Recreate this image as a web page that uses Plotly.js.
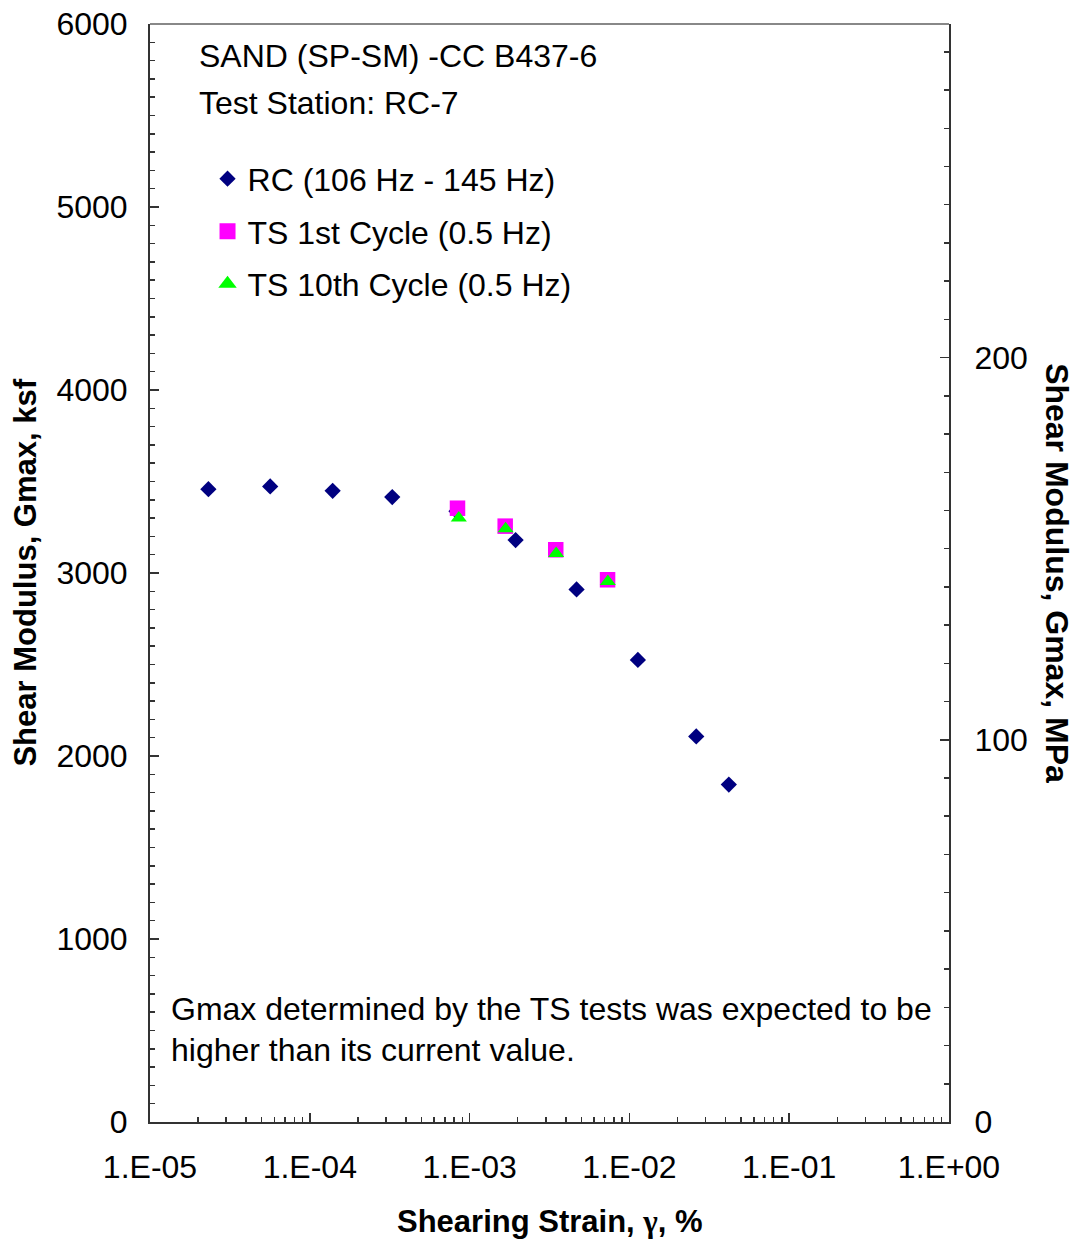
<!DOCTYPE html>
<html>
<head>
<meta charset="utf-8">
<script src="https://cdn.plot.ly/plotly-3.0.1.min.js"></script>
<style>html,body{margin:0;padding:0;background:#fff;}#chart{width:1076px;height:1243px;}</style>
</head>
<body>
<div id="chart"></div>
<script>
// RC (106 Hz - 145 Hz)
const rcStrain = [2.32e-5, 5.65e-5, 1.39e-4, 3.28e-4, 8.28e-4, 1.94e-3, 4.67e-3, 1.13e-2, 2.62e-2, 4.19e-2];
const rcG      = [3458, 3473, 3449, 3415, 3338, 3180, 2910, 2525, 2107, 1844];
// TS 1st Cycle (0.5 Hz)
const ts1Strain = [8.40e-4, 1.67e-3, 3.46e-3, 7.30e-3];
const ts1G      = [3354, 3256, 3127, 2963];
// TS 10th Cycle (0.5 Hz)
const ts10Strain = [8.56e-4, 1.68e-3, 3.48e-3, 7.33e-3];
const ts10G      = [3300, 3242, 3106, 2953];

const seriesNames = ["RC (106 Hz - 145 Hz)", "TS 1st Cycle (0.5 Hz)", "TS 10th Cycle (0.5 Hz)"];

const ksfPerMPa = 20.885;
const yMaxKsf = 6000;
const xTickVals = [1e-5, 1e-4, 1e-3, 1e-2, 1e-1, 1];
const xTickText = ["1.E-05", "1.E-04", "1.E-03", "1.E-02", "1.E-01", "1.E+00"];

const FONT = "Liberation Sans, Arial, sans-serif";
const FS = 32;

const mk = {
  rc:   {symbol: "diamond", color: "#000080"},
  ts1:  {symbol: "square", color: "#FF00FF"},
  ts10: {symbol: "triangle-up", color: "#00FF00"}
};

const traces = [
  {x: rcStrain, y: rcG, name: seriesNames[0], mode: "markers", type: "scatter", showlegend: false,
   marker: {symbol: mk.rc.symbol, size: 12.5, color: mk.rc.color, line: {width: 0}}},
  {x: ts1Strain, y: ts1G, name: seriesNames[1], mode: "markers", type: "scatter", showlegend: false,
   marker: {symbol: mk.ts1.symbol, size: 15.5, color: mk.ts1.color, line: {width: 0}}},
  {x: ts10Strain, y: ts10G, name: seriesNames[2], mode: "markers", type: "scatter", showlegend: false,
   marker: {symbol: mk.ts10.symbol, size: 14, color: mk.ts10.color, line: {width: 0}}},
  // legend entries (no data drawn)
  {x: [null], y: [null], name: seriesNames[0], mode: "markers", type: "scatter", legendgroup: "a",
   marker: {symbol: mk.rc.symbol, size: 12.5, color: mk.rc.color, line: {width: 0}}},
  {x: [null], y: [null], name: seriesNames[1], mode: "markers", type: "scatter", legendgroup: "b",
   marker: {symbol: mk.ts1.symbol, size: 16, color: mk.ts1.color, line: {width: 0}}},
  {x: [null], y: [null], name: seriesNames[2], mode: "markers", type: "scatter", legendgroup: "c",
   marker: {symbol: mk.ts10.symbol, size: 16, color: mk.ts10.color, line: {width: 0}}},
  {x: [1e-5], y: [0], yaxis: "y2", showlegend: false, mode: "markers", marker: {opacity: 0}, hoverinfo: "skip"}
];

const layout = {
  width: 1076, height: 1243,
  margin: {l: 150, r: 127, t: 24, b: 121},
  paper_bgcolor: "#fff", plot_bgcolor: "#fff",
  font: {family: FONT, size: FS, color: "#000"},
  showlegend: true,
  legend: {x: 0.072, y: 0.884, xanchor: "left", yanchor: "top", bgcolor: "rgba(0,0,0,0)",
           font: {family: FONT, size: FS, color: "#000"}, traceorder: "grouped", tracegroupgap: 8,
           itemwidth: 30},
  xaxis: {type: "log", range: [-5, 0], tickvals: xTickVals, ticktext: xTickText,
          ticks: "inside", ticklen: 9, tickwidth: 1.5, tickcolor: "#333",
          showline: true, linecolor: "#333", linewidth: 2, showgrid: false, zeroline: false,
          tickfont: {family: FONT, size: FS}, ticklabelstandoff: 16,
          minor: {ticks: "inside", ticklen: 5, tickwidth: 1.5, tickcolor: "#333",
                  tickvals: (function(){const v=[];for(let e=-5;e<0;e++){for(let m=2;m<=9;m++){v.push(m*Math.pow(10,e));}}return v;})(),
                  showgrid: false}},
  yaxis: {range: [0, yMaxKsf], dtick: 1000, tick0: 0, ticks: "inside", ticklen: 9, tickwidth: 1.5, tickcolor: "#333",
          showline: true, linecolor: "#333", linewidth: 2, showgrid: false, zeroline: false,
          tickfont: {family: FONT, size: FS}, ticklabelstandoff: 14,
          minor: {dtick: 100, ticks: "inside", ticklen: 5, tickwidth: 1.5, tickcolor: "#333", showgrid: false}},
  yaxis2: {overlaying: "y", side: "right", range: [0, yMaxKsf / ksfPerMPa], dtick: 100, tick0: 0,
           ticks: "inside", ticklen: 9, tickwidth: 1.5, tickcolor: "#333",
           showline: true, linecolor: "#333", linewidth: 2, showgrid: false, zeroline: false,
           tickfont: {family: FONT, size: FS}, ticklabelstandoff: 17,
           minor: {dtick: 10, ticks: "inside", ticklen: 5, tickwidth: 1.5, tickcolor: "#333", showgrid: false}},
  shapes: [{type: "line", xref: "paper", yref: "paper", x0: 0, x1: 1, y0: 1, y1: 1,
            line: {color: "#888", width: 2}}],
  annotations: [
    {text: "SAND (SP-SM) -CC B437-6", xref: "paper", yref: "paper", x: 0.059, y: 0.971, xanchor: "left", yanchor: "middle",
     showarrow: false, font: {family: FONT, size: FS}},
    {text: "Test Station: RC-7", xref: "paper", yref: "paper", x: 0.059, y: 0.928, xanchor: "left", yanchor: "middle",
     showarrow: false, font: {family: FONT, size: FS}},
    {text: "Gmax determined by the TS tests was expected to be", xref: "paper", yref: "paper", x: 0.024, y: 0.103,
     xanchor: "left", yanchor: "middle", showarrow: false, font: {family: FONT, size: FS}},
    {text: "higher than its current value.", xref: "paper", yref: "paper", x: 0.024, y: 0.066,
     xanchor: "left", yanchor: "middle", showarrow: false, font: {family: FONT, size: FS}},
    {text: "<b>Shearing Strain, <span style=\"font-family:'Liberation Serif',serif\">γ</span>, %</b>", xref: "paper", yref: "paper",
     x: 0.5, y: -0.091, xanchor: "center", yanchor: "middle", showarrow: false, font: {family: FONT, size: 31}},
    {text: "<b>Shear Modulus, Gmax, ksf</b>", xref: "paper", yref: "paper", x: -0.157, y: 0.5, textangle: -90,
     xanchor: "center", yanchor: "middle", showarrow: false, font: {family: FONT, size: 31}},
    {text: "<b>Shear Modulus, Gmax, MPa</b>", xref: "paper", yref: "paper", x: 1.135, y: 0.5, textangle: 90,
     xanchor: "center", yanchor: "middle", showarrow: false, font: {family: FONT, size: FS}}
  ]
};

Plotly.newPlot("chart", traces, layout, {staticPlot: true, displayModeBar: false});
</script>
</body>
</html>
